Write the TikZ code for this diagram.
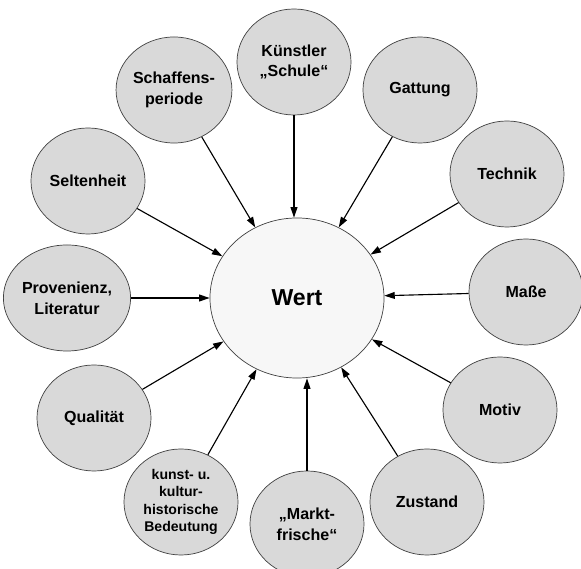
\documentclass[tikz,border=0pt]{standalone}
\usepackage{fontspec}
\setmainfont{Liberation Sans}
\usepackage{tikz}
\usepackage{xcolor}
\usetikzlibrary{shapes.geometric, arrows.meta, calc}

\begin{document}
\begin{tikzpicture}[x=0.025cm, y=-0.025cm,
    factor/.style={draw=black!75, line width=0.5pt, ellipse, fill=black!15, inner sep=0pt,
        minimum width=2.85cm, minimum height=2.65cm, align=center,
        font=\bfseries\fontsize{11.4}{14.8}\selectfont},
    wertnode/.style={draw=black!75, line width=0.5pt, ellipse, fill=black!3, inner sep=0pt,
        minimum width=4.35cm, minimum height=4cm, font=\bfseries\fontsize{16.4}{18}\selectfont},
    pfeil/.style={-{Triangle[length=2.6mm, width=1.7mm]}, line width=0.8pt}]
    \useasboundingbox (0,0) rectangle (581,569);

    \node[wertnode] (wert) at (297,298) {Wert};

    \node[factor] (kuenstler) at (294,62) {Künstler\\„Schule“};
    \node[factor] (schaffen) at (174,90) {Schaffens-\\periode};
    \node[factor] (gattung) at (420,90) {Gattung};
    \node[factor] (selten) at (88,181) {Seltenheit};
    \node[factor] (technik) at (507,174) {Technik};
    \node[factor] (prov) at (67,298) {Provenienz,\\Literatur};
    \node[factor] (masse) at (526,292) {Maße};
    \node[factor] (qual) at (94,418) {Qualität};
    \node[factor] (motiv) at (500,410) {Motiv};
    \node[factor, font=\bfseries\fontsize{10}{12.3}\selectfont] (kunst) at (181,502) {kunst- u.\\kultur-\\historische\\Bedeutung};
    \node[factor] (markt) at (307,524) {„Markt-\\frische“};
    \node[factor] (zustand) at (427,502) {Zustand};

    \draw[pfeil] (kuenstler) -- (kuenstler |- wert.north);
    \draw[pfeil] (schaffen) -- (wert);
    \draw[pfeil] (gattung) -- (wert);
    \draw[pfeil] (selten) -- (wert);
    \draw[pfeil] (technik) -- (wert);
    \draw[pfeil] (prov) -- (wert);
    \draw[pfeil] (masse) -- (wert);
    \draw[pfeil] (qual) -- (wert);
    \draw[pfeil] (motiv) -- (wert);
    \draw[pfeil] (kunst) -- (wert);
    \draw[pfeil] (markt) -- (markt |- wert.south);
    \draw[pfeil] (zustand) -- (wert);
\end{tikzpicture}
\end{document}
